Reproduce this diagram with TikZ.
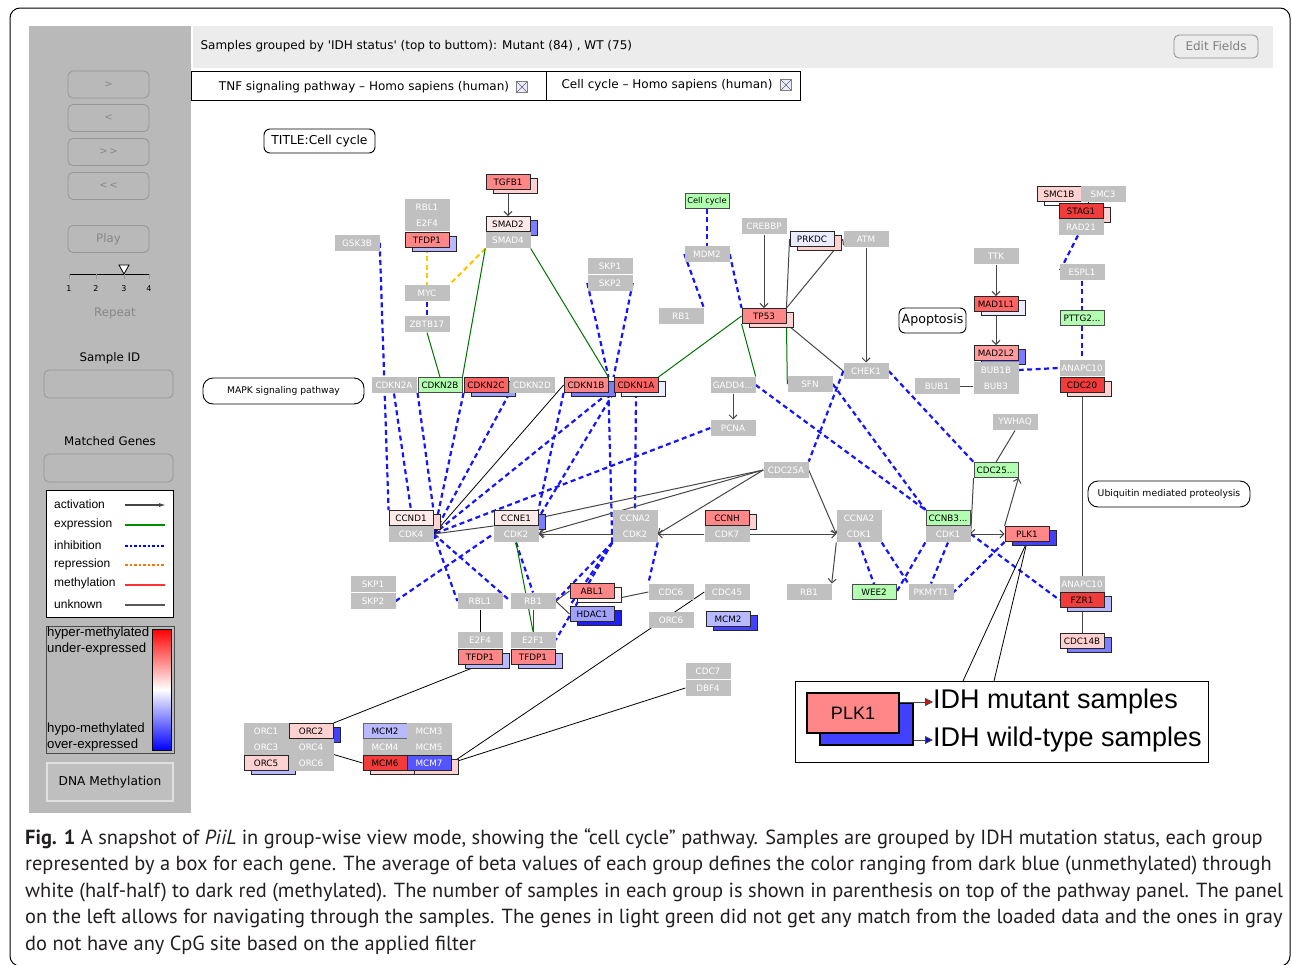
\documentclass[tikz,border=0pt]{standalone}
\usepackage{fontspec}
\setmainfont{DejaVu Sans}
\newfontfamily\arialfont{Liberation Sans}
\newfontfamily\capfont{PT Sans}
\usetikzlibrary{arrows.meta,calc,backgrounds}

\definecolor{panelgray}{RGB}{185,185,185}
\definecolor{bargray}{RGB}{236,236,236}
\definecolor{genegray}{RGB}{192,192,192}
\definecolor{btnline}{RGB}{150,150,150}
\definecolor{btntext}{RGB}{135,135,135}
\definecolor{lgreen}{RGB}{178,255,178}
\definecolor{inhblue}{RGB}{20,20,255}
\definecolor{repyellow}{RGB}{255,200,0}
\definecolor{expgreen}{RGB}{0,115,0}
\definecolor{actgray}{RGB}{70,70,70}
\definecolor{redA}{RGB}{255,135,135}
\definecolor{redB}{RGB}{242,60,60}
\definecolor{redC}{RGB}{255,100,100}
\definecolor{redD}{RGB}{255,155,155}
\definecolor{pinkA}{RGB}{255,210,210}
\definecolor{pinkB}{RGB}{255,234,234}
\definecolor{pinkC}{RGB}{255,243,243}
\definecolor{blueA}{RGB}{125,125,255}
\definecolor{blueB}{RGB}{65,65,255}
\definecolor{blueC}{RGB}{30,30,255}
\definecolor{blueD}{RGB}{85,85,255}
\definecolor{lavA}{RGB}{185,185,255}
\definecolor{lavB}{RGB}{236,236,255}
\definecolor{lavD}{RGB}{160,160,255}
\definecolor{captext}{RGB}{35,31,32}

\newcommand\genefont{\fontsize{8.8}{10}\selectfont}
\newcommand\uifont{\fontsize{11.8}{14}\selectfont}

\tikzset{
  ggene/.style={rectangle, fill=genegray, text=white, minimum width=45pt, minimum height=16.6pt, inner sep=0pt, font=\genefont},
  cgene/.style={rectangle, draw=black!85, line width=0.9pt, minimum width=44pt, minimum height=15pt, inner sep=0pt, font=\genefont},
  lgene/.style={cgene, fill=lgreen, draw=black!70},
  mapbox/.style={rectangle, rounded corners=6pt, draw, line width=0.9pt, inner sep=0pt},
  btn/.style={rectangle, rounded corners=5pt, draw=btnline, line width=0.8pt, text=btntext, minimum width=81pt, minimum height=27pt, font=\fontsize{10}{12}\selectfont},
  lgdtxt/.style={anchor=west, inner sep=0pt, font=\arialfont\fontsize{12}{14}\selectfont},
  bartxt/.style={anchor=west, inner sep=0pt, font=\arialfont\fontsize{13.2}{15}\selectfont},
  captxt/.style={anchor=west, inner sep=0pt, text=captext, font=\capfont\fontsize{20.4}{23}\selectfont},
  closeicon/.style={rectangle, minimum size=11pt, inner sep=0pt, draw=black!50, fill=blue!8,
    path picture={\draw[black!60] (path picture bounding box.south west) -- (path picture bounding box.north east)
      (path picture bounding box.north west) -- (path picture bounding box.south east);}},
  inh/.style={inhblue, line width=2.2pt, dash pattern=on 5pt off 3.5pt},
  rep/.style={repyellow, line width=2.2pt, dash pattern=on 5pt off 3.5pt},
  expr/.style={expgreen, line width=1pt},
  act/.style={actgray, line width=1pt, -{Straight Barb[length=4pt,width=8pt]}},
  unk/.style={actgray, line width=1pt},
  plainlink/.style={black, line width=0.8pt},
}

% gene box with the second group drawn behind it
\newcommand{\genebox}[6]{%
  \node[cgene, fill=#6] (#1s) at (#2+7,#3+4) {};
  \node[cgene, fill=#5] (#1) at (#2,#3) {#4};
}

\begin{document}
\begin{tikzpicture}[x=1pt, y=-1pt]
    \useasboundingbox (0,0) rectangle (1292,964);

    % Draw outer frame
    \draw[line width=1pt, rounded corners=10pt] (10,8) rectangle (1290,966);

    % Draw control panel
    \fill[panelgray] (29,26) rectangle (191,813);
    \node[btn] (fwd) at (108.5,84.5) {>};
    \node[btn] (back) at (108.5,118) {<};
    \node[btn] (ffwd) at (108.5,152) {>\,>};
    \node[btn] (fback) at (108.5,186) {<\,<};
    \node[btn, font=\uifont] (play) at (108.5,239) {Play};
    \draw[line width=0.8pt] (69,274) -- (149,274);
    \draw[btnline] (69,274) -- (69,279);
    \draw[btnline] (96,274) -- (96,279);
    \draw[btnline] (124,274) -- (124,279);
    \draw[btnline] (149,274) -- (149,279);
    \node[font=\footnotesize] (tick1) at (69,289) {1};
    \node[font=\footnotesize] (tick2) at (96,289) {2};
    \node[font=\footnotesize] (tick3) at (124,289) {3};
    \node[font=\footnotesize] (tick4) at (149,289) {4};
    \draw[fill=white, line width=0.8pt] (119,265) -- (129,265) -- (124,274) -- cycle;
    \node[text=btntext, font=\uifont] (repeat) at (115,313) {Repeat};
    \node[font=\uifont] (sid) at (110,358) {Sample ID};
    \node[btn, minimum width=129pt, minimum height=28pt] (sidbox) at (108.5,384) {};
    \node[font=\uifont] (mgenes) at (110,441) {Matched Genes};
    \node[btn, minimum width=129pt, minimum height=28pt] (mgbox) at (108.5,468) {};

    % Draw edge legend
    \node[draw, fill=white, line width=0.9pt, minimum width=127pt, minimum height=127pt] (lgd) at (109.5,553.5) {};
    \node[lgdtxt] (lact) at (54,504) {activation};
    \node[lgdtxt] (lexp) at (54,524) {expression};
    \node[lgdtxt] (linh) at (54,545) {inhibition};
    \node[lgdtxt] (lrep) at (54,564) {repression};
    \node[lgdtxt] (lmet) at (54,583) {methylation};
    \node[lgdtxt] (lunk) at (54,604) {unknown};
    \draw[actgray, line width=1.2pt, -{Latex[length=7pt,width=4pt]}] (125,505) -- (166,505);
    \draw[green!55!black, line width=1.2pt] (125,525) -- (165,525);
    \draw[blue, line width=1.2pt, dash pattern=on 2.5pt off 2pt] (125,546) -- (165,546);
    \draw[orange!90!red, line width=1.2pt, dash pattern=on 2.5pt off 2pt] (125,565) -- (165,565);
    \draw[red!80, line width=1.2pt] (125,585) -- (165,585);
    \draw[black!65, line width=1.2pt] (125,605) -- (165,605);

    % Draw colour bar
    \node[draw=black!70, line width=1pt, minimum width=128pt, minimum height=127pt] (cbar) at (110,689.5) {};
    \shade[top color=red, bottom color=blue, middle color=white] (152,629) rectangle (171,750);
    \draw[line width=0.8pt] (152,629) rectangle (171,750);
    \node[bartxt] (hyper) at (47,633) {hyper-methylated};
    \node[bartxt] (under) at (47,649) {under-expressed};
    \node[bartxt] (hypo) at (47,729) {hypo-methylated};
    \node[bartxt] (over) at (47,745) {over-expressed};
    \node[rectangle, draw=black!12, fill=black!25, line width=1.2pt, minimum width=126pt, minimum height=38pt, font=\fontsize{12.2}{14}\selectfont] (dnam) at (110,782) {DNA Methylation};

    % Draw top bar and tabs
    \fill[bargray] (193,26) rectangle (1273,68);
    \node[anchor=west, font=\fontsize{12}{14}\selectfont] (groups) at (197,46) {Samples grouped by \textquotesingle IDH status\textquotesingle{} (top to buttom): Mutant (84) , WT (75)};
    \node[rectangle, rounded corners=5pt, draw=black!45, line width=0.8pt, fill=bargray, minimum width=84pt, minimum height=23pt, text=black!50, font=\fontsize{12}{14}\selectfont] (edit) at (1216,46.5) {Edit Fields};
    \node[draw, line width=0.9pt, minimum width=355pt, minimum height=29pt] (tab1) at (368.5,85.5) {};
    \node[font=\fontsize{12}{14}\selectfont] (tab1t) at (364,87) {TNF signaling pathway -- Homo sapiens (human)};
    \node[closeicon] (tab1x) at (522,87) {};
    \node[draw, line width=0.9pt, minimum width=254pt, minimum height=29pt] (tab2) at (673,85.5) {};
    \node[font=\fontsize{12}{14}\selectfont] (tab2t) at (667,85) {Cell cycle -- Homo sapiens (human)};
    \node[closeicon] (tab2x) at (786,85) {};

    % Draw map labels
    \node[mapbox, minimum width=111pt, minimum height=24pt, font=\fontsize{12.3}{14}\selectfont] (title) at (319.5,141) {TITLE:Cell cycle};
    \node[mapbox, rounded corners=10pt, minimum width=161pt, minimum height=26pt, font=\fontsize{9.2}{11}\selectfont] (mapk) at (283.5,391) {MAPK signaling pathway};
    \node[mapbox, minimum width=67pt, minimum height=25pt, font=\fontsize{12.6}{14}\selectfont] (apop) at (932.5,320.5) {Apoptosis};
    \node[mapbox, rounded corners=10pt, minimum width=162pt, minimum height=26pt, font=\fontsize{9.3}{11}\selectfont] (ubiq) at (1169,494) {Ubiquitin mediated proteolysis};

    % Draw genes with data (mutant box in front, wild-type box behind)
    \genebox{TGFB1}{508}{182}{TGFB1}{redA}{pinkA}
    \genebox{SMAD2}{508}{224}{SMAD2}{pinkB}{blueA}
    \genebox{TFDP1a}{427}{240}{TFDP1}{redA}{lavA}
    \genebox{CDKN2C}{486}{385}{CDKN2C}{redC}{lavD}
    \genebox{CDKN1B}{586}{385}{CDKN1B}{redA}{blueA}
    \genebox{CDKN1A}{636}{385}{CDKN1A}{redC}{lavB}
    \genebox{PRKDC}{812}{239}{PRKDC}{lavB}{pinkA}
    \genebox{TP53}{764}{316}{TP53}{redA}{pinkA}
    \genebox{MAD1L1}{996}{304}{MAD1L1}{redC}{lavB}
    \genebox{MAD2L2}{996}{353}{MAD2L2}{redD}{blueA}
    \genebox{SMC1B}{1059}{194}{SMC1B}{pinkA}{white}
    \genebox{STAG1}{1081}{211}{STAG1}{redB}{pinkA}
    \genebox{CDC20}{1082}{385}{CDC20}{redB}{pinkA}
    \genebox{CCND1}{411}{518}{CCND1}{pinkB}{pinkA}
    \genebox{CCNE1}{516}{518}{CCNE1}{pinkB}{blueA}
    \genebox{CCNH}{727}{518}{CCNH}{redA}{pinkA}
    \genebox{PLK1}{1027}{534}{PLK1}{redA}{blueB}
    \genebox{ABL1}{592}{591}{ABL1}{redA}{pinkC}
    \genebox{HDAC1}{592}{614}{HDAC1}{lavD}{blueC}
    \genebox{MCM2b}{728}{619}{MCM2}{lavA}{blueB}
    \genebox{TFDP1b}{480}{657}{TFDP1}{redA}{lavA}
    \genebox{TFDP1c}{533}{657}{TFDP1}{redA}{lavA}
    \genebox{FZR1}{1082}{600}{FZR1}{redB}{lavA}
    \genebox{CDC14B}{1082}{641}{CDC14B}{pinkA}{blueA}
    \genebox{ORC2}{311}{731}{ORC2}{pinkA}{blueB}
    \genebox{ORC5}{266}{763}{ORC5}{pinkA}{lavA}
    \genebox{MCM6}{385}{763}{MCM6}{redB}{pinkA}
    \genebox{MCM7}{429}{763}{\color{white}MCM7}{blueD}{pinkA}
    \node[cgene, fill=lavA, draw=black!60] (MCM2a) at (385,731) {MCM2};

    % Draw genes without CpG sites
    \node[ggene] (GSK3B) at (357,243) {GSK3B};
    \node[ggene] (RBL1a) at (427,207) {RBL1};
    \node[ggene] (E2F4a) at (427,223) {E2F4};
    \node[ggene] (SMAD4) at (508,240) {SMAD4};
    \node[ggene] (MYC) at (427,293) {MYC};
    \node[ggene] (ZBTB17) at (427,324) {ZBTB17};
    \node[ggene] (CDKN2A) at (394,385) {CDKN2A};
    \node[ggene] (CDKN2D) at (532,385) {CDKN2D};
    \node[ggene] (SKP1a) at (610,266) {SKP1};
    \node[ggene] (SKP2a) at (610,283) {SKP2};
    \node[ggene] (MDM2) at (707,254) {MDM2};
    \node[ggene] (RB1a) at (681,316) {RB1};
    \node[ggene] (CREBBP) at (764,226) {CREBBP};
    \node[ggene] (ATM) at (866,239) {ATM};
    \node[ggene] (GADD45) at (733,385) {GADD4...};
    \node[ggene] (SFN) at (810,384) {SFN};
    \node[ggene] (CHEK1) at (866,371) {CHEK1};
    \node[ggene] (BUB1) at (937,386) {BUB1};
    \node[ggene] (BUB1B) at (996,370) {BUB1B};
    \node[ggene] (BUB3) at (996,386) {BUB3};
    \node[ggene] (TTK) at (996,256) {TTK};
    \node[ggene] (SMC3) at (1103,194) {SMC3};
    \node[ggene] (RAD21) at (1081,227) {RAD21};
    \node[ggene] (ESPL1) at (1082,272) {ESPL1};
    \node[ggene] (ANAPC10a) at (1082,368) {ANAPC10};
    \node[ggene] (YWHAQ) at (1015,422) {YWHAQ};
    \node[ggene] (PCNA) at (733,428) {PCNA};
    \node[ggene] (CDC25A) at (786,470) {CDC25A};
    \node[ggene] (CDK4) at (411,534) {CDK4};
    \node[ggene] (CDK2a) at (516,534) {CDK2};
    \node[ggene] (CCNA2a) at (635,518) {CCNA2};
    \node[ggene] (CDK2b) at (635,534) {CDK2};
    \node[ggene] (CDK7) at (727,534) {CDK7};
    \node[ggene] (CCNA2b) at (859,518) {CCNA2};
    \node[ggene] (CDK1a) at (859,534) {CDK1};
    \node[ggene] (CDK1b) at (948,534) {CDK1};
    \node[ggene] (SKP1b) at (373,584) {SKP1};
    \node[ggene] (SKP2b) at (373,601) {SKP2};
    \node[ggene] (RBL1b) at (480,601) {RBL1};
    \node[ggene] (RB1b) at (533,601) {RB1};
    \node[ggene] (E2F4b) at (480,640) {E2F4};
    \node[ggene] (E2F1) at (533,640) {E2F1};
    \node[ggene] (CDC6) at (671,592) {CDC6};
    \node[ggene] (ORC6a) at (671,620) {ORC6};
    \node[ggene] (CDC45) at (727,592) {CDC45};
    \node[ggene] (RB1c) at (809,592) {RB1};
    \node[ggene] (PKMYT1) at (931,592) {PKMYT1};
    \node[ggene] (CDC7) at (708,671) {CDC7};
    \node[ggene] (DBF4) at (708,688) {DBF4};
    \node[ggene] (ANAPC10b) at (1082,584) {ANAPC10};
    \node[ggene] (ORC1) at (266,731) {ORC1};
    \node[ggene] (ORC3) at (266,747) {ORC3};
    \node[ggene] (ORC4) at (311,747) {ORC4};
    \node[ggene] (ORC6b) at (311,763) {ORC6};
    \node[ggene] (MCM3) at (429,731) {MCM3};
    \node[ggene] (MCM4) at (385,747) {MCM4};
    \node[ggene] (MCM5) at (429,747) {MCM5};

    % Draw genes with no match
    \node[lgene, font=\fontsize{8.2}{9}\selectfont] (CellC) at (707,201) {Cell cycle};
    \node[lgene] (CDKN2B) at (440,385) {CDKN2B};
    \node[lgene] (PTTG2) at (1082,318) {PTTG2...};
    \node[lgene] (CDC25C) at (996,470) {CDC25...};
    \node[lgene] (CCNB3) at (948,518) {CCNB3...};
    \node[lgene] (WEE2) at (874,592) {WEE2};

    % Draw group legend
    \node[draw, line width=0.8pt, minimum width=413pt, minimum height=81pt] (inset) at (1001.5,721.5) {};
    \coordinate (pin1) at (963,681);
    \coordinate (pin2) at (994,681);
    \node[rectangle, draw, line width=1.8pt, fill=blueB, minimum width=93pt, minimum height=42pt] (plkwt) at (866.5,724) {};
    \node[rectangle, draw, line width=1.8pt, fill=redA, minimum width=92pt, minimum height=40pt, font=\arialfont\fontsize{18}{20}\selectfont] (plkmut) at (853,713) {PLK1};
    \node[anchor=west, inner sep=0pt, font=\arialfont\fontsize{27}{29}\selectfont] (muttxt) at (933,702) {IDH mutant samples};
    \node[anchor=west, inner sep=0pt, font=\arialfont\fontsize{27}{29}\selectfont] (wttxt) at (933,740) {IDH wild-type samples};
    \draw[actgray, line width=1pt, -{Triangle[fill=red, length=8pt, width=8pt]}] (plkmut.east |- muttxt.west) -- (muttxt.west);
    \draw[actgray, line width=1pt, -{Triangle[fill=blue, length=8pt, width=8pt]}] (plkwt.east |- wttxt.west) -- (wttxt.west);

    % Draw connectors
    \begin{scope}[on background layer]
    % inhibition
    \draw[inh] (GSK3B.east) -- (CCND1.north west);
    \draw[inh] (CDKN2A.south) -- (CCND1.north);
    \draw[inh] (CDKN2B.south west) -- (CCND1.north east);
    \draw[inh] (CDKN2C.south west) -- (CDK4.east);
    \draw[inh] (CDKN2D.south west) -- (CDK4.east);
    \draw[inh] (CDKN1B.south east) -- (CDK4.east);
    \draw[inh] (CDKN1B.south west) -- (CCNE1.north east);
    \draw[inh] (CDKN1A.south west) -- (CCNE1.east);
    \draw[inh] (CDKN1B.south east) -- (CDK2b.south west);
    \draw[inh] (CDKN1A.south) -- (CCNA2a.north);
    \draw[inh] (SKP2a.west) -- (CDKN1B.north east);
    \draw[inh] (SKP2a.east) -- (CDKN1A.north west);
    \draw[inh] (CellC.south) -- (MDM2.north);
    \draw[inh] (MDM2.west) -- (RB1a.north east);
    \draw[inh] (MDM2.east) -- (TP53.north west);
    \draw[inh] (PCNA.west) -- (CDK4.east);
    \draw[inh] (SKP2b.east) -- (CDK2a.west);
    \draw[inh] (CDK4.east) -- (RBL1b.west);
    \draw[inh] (CDK4.east) -- (RB1b.west);
    \draw[inh] (CDK2a.south) -- (RB1b.north);
    \draw[inh] (CDK2b.south west) -- (RB1b.east);
    \draw[inh] (CDK2b.south west) -- (HDAC1.north west);
    \draw[inh] (CDK2b.south west) -- (E2F1.east);
    \draw[inh] (CDK2b.south east) -- (CDC6.north west);
    \draw[inh] (GADD45.east) -- (CCNB3.north west);
    \draw[inh] (SFN.east) -- (CCNB3.north west);
    \draw[inh] (CHEK1.west) -- (CDC25A.north east);
    \draw[inh] (CHEK1.east) -- (CDC25C.north west);
    \draw[inh] (CDK1a.south) -- (WEE2.north);
    \draw[inh] (CDK1a.south east) -- (PKMYT1.north west);
    \draw[inh] (CDK1b.south west) -- (WEE2.east);
    \draw[inh] (CDK1b.south) -- (PKMYT1.north);
    \draw[inh] (PLK1.south west) -- (PKMYT1.east);
    \draw[inh] (CDK1b.east) -- (FZR1.west);
    \draw[inh] (BUB1B.east) -- (ANAPC10a.west);
    \draw[inh] (RAD21.250) -- (ESPL1.west);
    \draw[inh] (ESPL1.south) -- (PTTG2.north);
    \draw[inh] (PTTG2.south) -- (ANAPC10a.north);
    \draw[inh] (MYC.south) -- (ZBTB17.north);
    % repression
    \draw[rep] (TFDP1a.south) -- (MYC.north);
    \draw[rep] (SMAD4.south west) -- (MYC.north east);
    % expression
    \draw[expr] (ZBTB17.south) -- (CDKN2B.north);
    \draw[expr] (SMAD4.south west) -- (CDKN2B.north east);
    \draw[expr] (SMAD4.south east) -- (CDKN1B.north east);
    \draw[expr] (TP53.west) -- (CDKN1A.north east);
    \draw[expr] (TP53.south west) -- (GADD45.north east);
    \draw[expr] (TP53.south east) -- (SFN.west);
    \draw[expr] (CDK2a.south) -- (E2F1.north);
    % activation
    \draw[act] (TGFB1.south) -- (SMAD2.north);
    \draw[act] (CREBBP.south) -- (TP53.north);
    \draw[act] (ATM.south) -- (CHEK1.north);
    \draw[act] (GADD45.south) -- (PCNA.north);
    \draw[act] (TTK.south) -- (MAD1L1.north);
    \draw[act] (MAD1L1.south) -- (MAD2L2.north);
    \draw[act] (CDC25A.east) -- (CDK1a.west);
    \draw[act] (CDC25A.west) -- (CDK2b.east);
    \draw[act] (CDC25A.west) -- (CDK2a.east);
    \draw[act] (CDK7.west) -- (CDK2a.east);
    \draw[act] (CDK7.west) -- (CDK2b.east);
    \draw[act] (CDK7.east) -- (CDK1a.west);
    \draw[act] (CCNE1.south west) -- (CDK4.east);
    \draw[act] (CDK1a.south west) -- (RB1c.north east);
    \draw[act] (CDC25C.south west) -- (CDK1b.east);
    \draw[act] (PLK1.north west) -- (CDC25C.south east);
    \draw[act] (CDK1b.east) -- (PLK1.west);
    \draw[act] (TP53.north east) -- (ATM.west);
    % unknown
    \draw[unk] (CDC25A.west) -- (CCNE1.east);
    \draw[unk] (PRKDC.west) -- (TP53.north east);
    \draw[unk] (TP53.south east) -- (CHEK1.west);
    \draw[unk] (BUB1.east) -- (BUB3.west);
    \draw[unk] (YWHAQ.south) -- (CDC25C.north);
    \draw[unk] (CDC20.south) -- (ANAPC10b.north);
    \draw[unk] (FZR1.south) -- (CDC14B.north);
    \draw[unk] (RB1b.south) -- (E2F1.north);
    \draw[unk] (RB1b.east) -- (ABL1.west);
    \draw[unk] (RB1b.east) -- (HDAC1.west);
    \draw[unk] (CDC6.west) -- (ABL1.south east);
    % other links
    \draw[plainlink] (CDKN1B.west) -- (CDK4.east);
    \draw[plainlink] (RBL1b.south) -- (E2F4b.north);
    \draw[plainlink] (TFDP1b.south) -- (ORC2.north east);
    \draw[plainlink] (CDC45.west) -- (MCM7.east);
    \draw[plainlink] (DBF4.west) -- (MCM7.east);
    \draw[plainlink] (ORC6b.north east) -- (MCM6.west);
    \draw[plainlink] (PLK1.south) -- (pin1);
    \draw[plainlink] (PLK1.south) -- (pin2);
    \end{scope}

    % Draw caption
    \node[captxt] (cap1) at (25,839) {\textbf{Fig. 1} A snapshot of \textit{PiiL} in group-wise view mode, showing the “cell cycle” pathway. Samples are grouped by IDH mutation status, each group};
    \node[captxt] (cap2) at (25,865) {represented by a box for each gene. The average of beta values of each group defines the color ranging from dark blue (unmethylated) through};
    \node[captxt] (cap3) at (25,892) {white (half-half) to dark red (methylated). The number of samples in each group is shown in parenthesis on top of the pathway panel. The panel};
    \node[captxt] (cap4) at (25,918) {on the left allows for navigating through the samples. The genes in light green did not get any match from the loaded data and the ones in gray};
    \node[captxt] (cap5) at (25,945) {do not have any CpG site based on the applied filter};
\end{tikzpicture}
\end{document}
